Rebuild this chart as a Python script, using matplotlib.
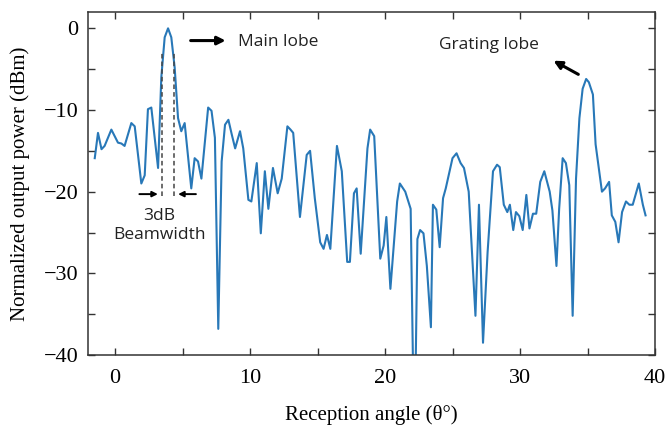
import numpy as np
import matplotlib.pyplot as plt
from matplotlib.ticker import MultipleLocator

# reception angle (deg) and normalized power (dBm)
angle = [-1.5, -1.26, -1.0, -0.77, -0.27, 0.22, 0.47, 0.71, 1.21, 1.46,
         1.95, 2.2, 2.44, 2.69, 3.19, 3.43, 3.68, 3.93, 4.17, 4.42,
         4.67, 4.91, 5.16, 5.4, 5.65, 5.9, 6.15, 6.4, 6.9, 7.15,
         7.4, 7.65, 7.9, 8.15, 8.4, 8.65, 8.9, 9.26, 9.5, 9.88,
         10.1, 10.5, 10.8, 11.1, 11.36, 11.7, 12.05, 12.35, 12.77, 13.0,
         13.2, 13.7, 14.2, 14.45, 14.8, 15.2, 15.45, 15.7, 15.95, 16.44,
         16.8, 17.2, 17.4, 17.7, 17.9, 18.2, 18.7, 18.9, 19.2, 19.65,
         19.9, 20.1, 20.4, 20.9, 21.1, 21.5, 21.9, 22.1, 22.25, 22.4,
         22.6, 22.85, 23.1, 23.4, 23.55, 23.8, 24.05, 24.3, 24.5, 25.0,
         25.3, 25.6, 25.85, 26.2, 26.7, 26.96, 27.26, 27.6, 28.0, 28.3,
         28.5, 28.8, 29.06, 29.25, 29.5, 29.7, 29.95, 30.2, 30.47, 30.7,
         30.96, 31.2, 31.5, 31.8, 32.2, 32.4, 32.7, 32.9, 33.16, 33.4,
         33.65, 33.9, 34.15, 34.4, 34.64, 34.9, 35.1, 35.4, 35.6, 36.07,
         36.3, 36.6, 36.8, 37.06, 37.3, 37.56, 37.85, 38.1, 38.35, 38.8,
         39.1, 39.3]
power = [-15.9, -12.8, -14.8, -14.4, -12.4, -14.0, -14.1, -14.4, -11.6, -12.0,
         -19.0, -18.0, -9.9, -9.7, -17.1, -6.0, -1.1, 0.0, -1.1, -4.8,
         -11.0, -12.6, -11.6, -15.5, -19.6, -15.9, -16.3, -18.4, -9.7, -10.1,
         -13.4, -36.8, -16.3, -11.8, -11.2, -13.0, -14.7, -12.6, -14.7, -21.0,
         -21.2, -16.5, -25.1, -17.5, -22.1, -17.1, -20.2, -18.4, -12.0, -12.4,
         -12.8, -23.1, -15.5, -15.0, -20.8, -26.2, -27.0, -25.3, -27.0, -14.4,
         -17.5, -28.6, -28.6, -20.2, -19.6, -27.6, -14.7, -12.4, -13.2, -28.2,
         -26.6, -23.1, -31.9, -21.2, -19.0, -20.0, -22.1, -44.0, -44.0, -25.8,
         -24.7, -25.1, -29.1, -36.6, -21.6, -22.2, -26.8, -20.8, -19.6, -15.9,
         -15.3, -16.5, -17.1, -20.0, -35.2, -21.6, -38.5, -27.4, -17.5, -16.7,
         -17.0, -21.6, -22.5, -21.6, -24.7, -22.5, -23.0, -24.7, -20.4, -24.5,
         -22.7, -22.7, -18.8, -17.5, -20.0, -22.3, -29.1, -22.1, -15.9, -16.5,
         -19.2, -35.2, -18.4, -11.0, -7.4, -6.2, -6.6, -8.1, -14.2, -20.0,
         -19.6, -18.8, -22.9, -23.7, -26.2, -22.5, -21.2, -21.6, -21.6, -19.0,
         -21.6, -22.9]

# 3 dB beamwidth edges
bw_left = 3.48
bw_right = 4.37

fig = plt.figure(figsize=(6.66, 4.30), dpi=100)
ax = fig.add_axes([88/666, 1-355/430, (655-88)/666, (355-12)/430])

ax.plot(angle, power, color='#2878b8', lw=1.5)

ax.set_xlim(-2, 40)
ax.set_ylim(-40, 2)
ax.xaxis.set_major_locator(MultipleLocator(10))
ax.xaxis.set_minor_locator(MultipleLocator(5))
ax.yaxis.set_major_locator(MultipleLocator(10))
ax.yaxis.set_minor_locator(MultipleLocator(5))
ax.tick_params(which='both', direction='in', top=True, right=True,
               length=5, width=1, color='#333333')
ax.tick_params(axis='x', labelsize=16, pad=10)
ax.tick_params(axis='y', labelsize=16, pad=7)
for lbl in ax.get_xticklabels() + ax.get_yticklabels():
    lbl.set_family('Liberation Serif')
for s in ax.spines.values():
    s.set_color('#333333')
    s.set_linewidth(1.1)

ax.set_xlabel('Reception angle (θ°)', family='Liberation Serif', fontsize=15, labelpad=12)
ax.set_ylabel('Normalized output power (dBm)', family='Liberation Serif', fontsize=15, labelpad=10)

# annotations
sans = 'Open Sans'
ax.annotate('', xy=(8.4, -1.5), xytext=(5.4, -1.5),
            arrowprops=dict(arrowstyle='-|>', lw=2.2, color='black', mutation_scale=12))
ax.text(9.1, -1.7, 'Main lobe', family=sans, fontsize=12.5, va='center', color='#222222')

ax.annotate('', xy=(32.3, -3.8), xytext=(34.5, -5.8),
            arrowprops=dict(arrowstyle='-|>', lw=2.2, color='black', mutation_scale=12))
ax.text(27.7, -2.1, 'Grating lobe', family=sans, fontsize=12.5, ha='center', va='center',
        color='#222222')

ax.vlines([bw_left, bw_right], -20.5, -3, colors='#444444', linestyles=(0, (3, 2)), lw=1.1)
ax.annotate('', xy=(bw_left - 0.1, -20.3), xytext=(1.6, -20.3),
            arrowprops=dict(arrowstyle='-|>', lw=1.4, color='black', mutation_scale=8))
ax.annotate('', xy=(bw_right + 0.1, -20.3), xytext=(6.2, -20.3),
            arrowprops=dict(arrowstyle='-|>', lw=1.4, color='black', mutation_scale=8))
ax.text(3.3, -24.2, '3dB\nBeamwidth', family=sans, fontsize=12.5, ha='center', va='center',
        linespacing=1.25, color='#222222')

fig.savefig('out.png', dpi=100)
